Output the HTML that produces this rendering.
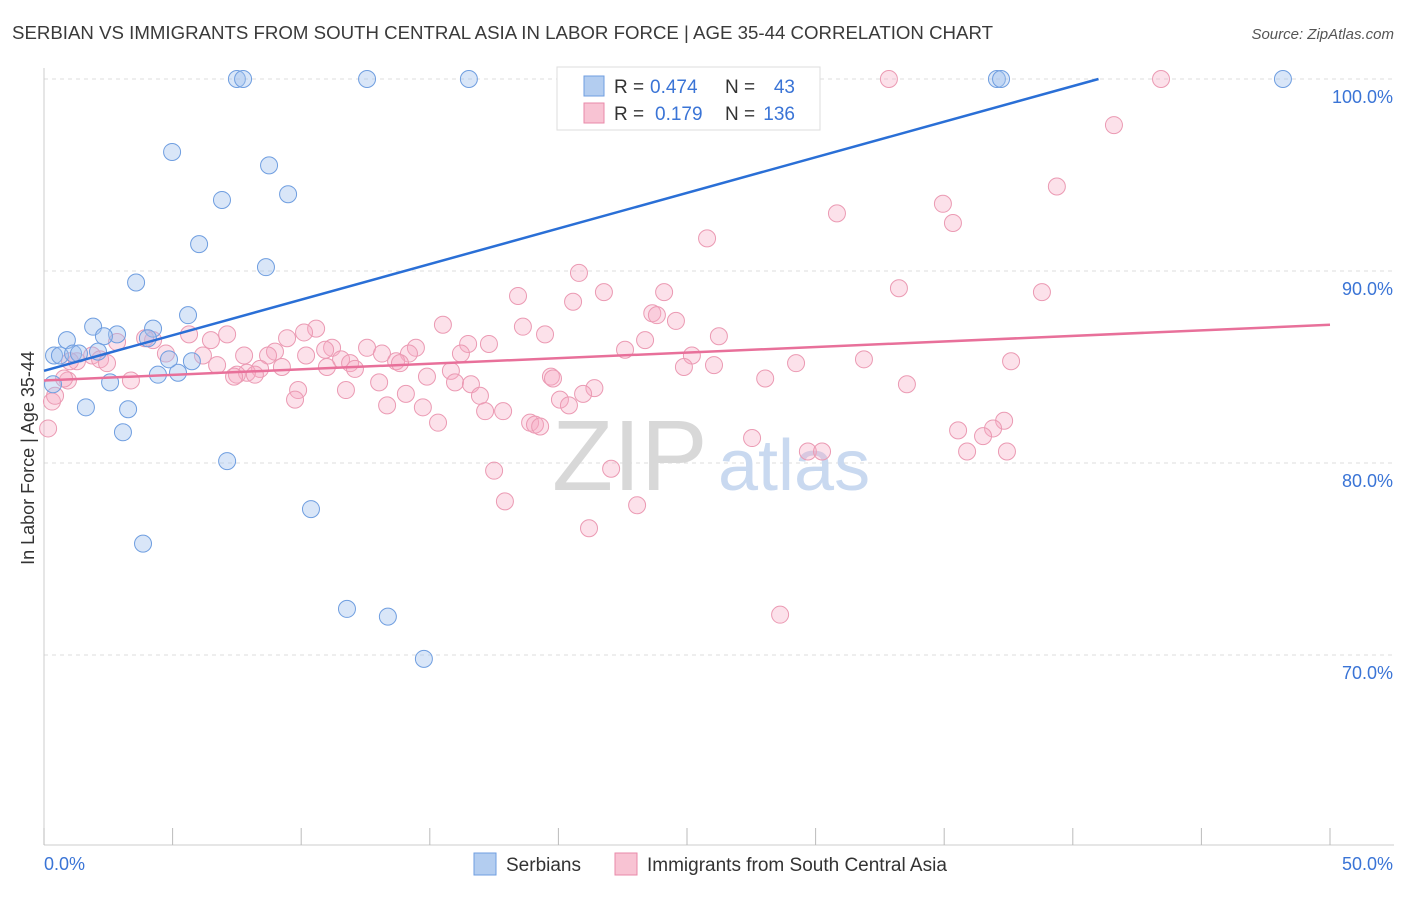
<!DOCTYPE html>
<html><head><meta charset="utf-8"><style>
body{margin:0;background:#fff;font-family:"Liberation Sans",sans-serif;}
svg text{font-family:"Liberation Sans",sans-serif;}
</style></head><body>
<svg id="chart" width="1406" height="892" xmlns="http://www.w3.org/2000/svg">
<text x="12" y="39" font-size="18" fill="#3a3a3a" textLength="981" lengthAdjust="spacingAndGlyphs">SERBIAN VS IMMIGRANTS FROM SOUTH CENTRAL ASIA IN LABOR FORCE | AGE 35-44 CORRELATION CHART</text>
<text x="1394" y="39" font-size="15" fill="#555" font-style="italic" text-anchor="end">Source: ZipAtlas.com</text>
<text transform="translate(34,458) rotate(-90)" font-size="18" fill="#333" text-anchor="middle">In Labor Force | Age 35-44</text>
<g id="grid"></g>
<text x="552" y="490" font-size="100" fill="#d8d8d8" font-family="Liberation Serif">ZIP</text>
<text x="718" y="490" font-size="72" fill="#c9d9f0">atlas</text>
<g id="pts"></g>
<g id="lines"></g>
<g>
<rect x="557" y="67" width="263" height="63" fill="#fff" stroke="#ddd"/>
<rect x="584" y="76" width="20" height="20" fill="#b3cdf0" stroke="#6f9ee0"/>
<rect x="584" y="103" width="20" height="20" fill="#f8c3d3" stroke="#e98aa8"/>
<text x="614" y="93" font-size="19" fill="#333">R =</text>
<text x="650" y="93" font-size="19" fill="#3a74d6">0.474</text>
<text x="725" y="93" font-size="19" fill="#333">N =</text>
<text x="795" y="93" font-size="19" fill="#3a74d6" text-anchor="end">43</text>
<text x="614" y="120" font-size="19" fill="#333">R =</text>
<text x="655" y="120" font-size="19" fill="#3a74d6">0.179</text>
<text x="725" y="120" font-size="19" fill="#333">N =</text>
<text x="795" y="120" font-size="19" fill="#3a74d6" text-anchor="end">136</text>
</g>
<g>
<rect x="474" y="853" width="22" height="22" fill="#b3cdf0" stroke="#6f9ee0"/>
<text x="506" y="871" font-size="19" fill="#333">Serbians</text>
<rect x="615" y="853" width="22" height="22" fill="#f8c3d3" stroke="#e98aa8"/>
<text x="647" y="871" font-size="19" fill="#333">Immigrants from South Central Asia</text>
</g>
</svg>
<script>
const xTicks=[0,50];
const yTicks=[100,90,80,70];
const blueX=[7.5,7.74,12.56,16.52,20.57,26.13,37.05,37.21,48.17,4.98,8.75,9.49,6.92,6.03,8.63,3.58,5.6,1.91,4.24,0.89,2.84,2.33,0.39,0.62,1.13,1.36,2.1,4.04,2.57,4.43,5.21,4.86,5.75,1.63,3.27,3.07,7.12,10.38,3.85,11.78,13.37,14.77,0.35];
const blueY=[100,100,100,100,100,100,100,100,100,96.2,95.5,94,93.7,91.4,90.2,89.4,87.7,87.1,87,86.4,86.7,86.6,85.6,85.6,85.7,85.7,85.8,86.5,84.2,84.6,84.7,85.4,85.3,82.9,82.8,81.6,80.1,77.6,75.8,72.4,72,69.8,84.1];
const pinkX=[32.85,43.43,41.6,39.38,30.83,34.95,35.34,25.78,20.8,18.43,20.57,21.77,24.11,33.24,38.8,15.51,18.62,19.48,23.65,23.83,24.57,26.24,23.37,17.3,16.49,10.58,10.11,7.12,6.49,5.64,9.45,4.24,3.93,2.84,12.56,14.46,11.2,10.93,8.98,10.19,13.14,14.19,16.21,22.59,25.19,31.88,37.6,7.78,8.71,6.18,4.74,1.87,2.18,2.45,1.28,1.01,11.55,11.9,13.69,13.84,12.09,11,9.25,6.73,8.4,7.89,7.5,7.39,8.2,15.82,14.89,13.03,15.98,16.6,19.71,19.79,24.88,26.05,29.24,28.04,33.55,3.38,0.93,0.78,11.74,21.4,20.96,9.88,9.76,14.07,16.95,20.06,20.41,13.34,14.73,17.15,17.85,15.32,18.9,19.09,19.29,37.33,36.9,35.54,36.51,27.53,29.7,30.25,35.89,37.44,17.5,22.05,17.92,23.06,21.19,28.62,0.31,0.16,0.43];
const pinkY=[100,100,97.6,94.4,93,93.5,92.5,91.7,89.9,88.7,88.4,88.9,88.9,89.1,88.9,87.2,87.1,86.7,87.8,87.7,87.4,86.6,86.4,86.2,86.2,87,86.8,86.7,86.4,86.7,86.5,86.4,86.5,86.3,86,86,86,85.9,85.8,85.6,85.7,85.7,85.7,85.9,85.6,85.4,85.3,85.6,85.6,85.6,85.7,85.6,85.4,85.2,85.3,85.3,85.4,85.2,85.3,85.2,84.9,85,85,85.1,84.9,84.7,84.6,84.5,84.6,84.8,84.5,84.2,84.2,84.1,84.5,84.4,85,85.1,85.2,84.4,84.1,84.3,84.3,84.4,83.8,83.9,83.6,83.8,83.3,83.6,83.5,83.3,83,83,82.9,82.7,82.7,82.1,82.1,82,81.9,82.2,81.8,81.7,81.4,81.3,80.6,80.6,80.6,80.6,79.6,79.7,78,77.8,76.6,72.1,83.2,81.8,83.5];
const blueLine=[0,84.8,41,100];
const pinkLine=[0,84.3,50,87.2];
const sx=v=>44+v/50*1286;
const sy=v=>79+(100-v)*19.2;
const NS="http://www.w3.org/2000/svg";
const grid=document.getElementById('grid');
function mk(tag,attrs,parent){const e=document.createElementNS(NS,tag);for(const k in attrs)e.setAttribute(k,attrs[k]);parent.appendChild(e);return e;}
yTicks.forEach(t=>{
 const l=mk('line',{x1:44,x2:1394,y1:sy(t),y2:sy(t),stroke:'#ddd','stroke-dasharray':'4,4'},grid);
 
 
 const tx=mk('text',{x:1393,y:sy(t)+24,'font-size':18,fill:'#3a74d6','text-anchor':'end'},grid);
 tx.textContent=t.toFixed(1)+'%';
 
 
});
mk('line',{x1:44,x2:1394,y1:845,y2:845,stroke:'#ccc'},grid);
mk('line',{x1:44,x2:44,y1:68,y2:845,stroke:'#ccc'},grid);
for(let i=0;i<=10;i++){const l=mk('line',{x1:sx(i*5),x2:sx(i*5),y1:828,y2:845,stroke:'#bbb'},grid);
 
 }
xTicks.forEach((t,i)=>{const tx=mk('text',{x:i?1393:44,y:870,'font-size':18,fill:'#3a74d6','text-anchor':i?'end':'start'},grid);
 tx.textContent=t.toFixed(1)+'%';
 
 });
const pts=document.getElementById('pts');
pinkX.forEach((x,i)=>{const c=mk('circle',{cx:sx(x),cy:sy(pinkY[i]),r:8.5,fill:'rgba(245,170,195,0.35)',stroke:'#eb9ab3','stroke-width':1},pts);
 
 });
blueX.forEach((x,i)=>{const c=mk('circle',{cx:sx(x),cy:sy(blueY[i]),r:8.5,fill:'rgba(160,193,238,0.4)',stroke:'#6f9ee0','stroke-width':1},pts);
 
 });
const lines=document.getElementById('lines');
const bl=mk('line',{x1:sx(blueLine[0]),y1:sy(blueLine[1]),x2:sx(blueLine[2]),y2:sy(blueLine[3]),stroke:'#2a6fd6','stroke-width':2.5},lines);


const pl=mk('line',{x1:sx(pinkLine[0]),y1:sy(pinkLine[1]),x2:sx(pinkLine[2]),y2:sy(pinkLine[3]),stroke:'#e8709a','stroke-width':2.5},lines);


</script>
</body></html>
